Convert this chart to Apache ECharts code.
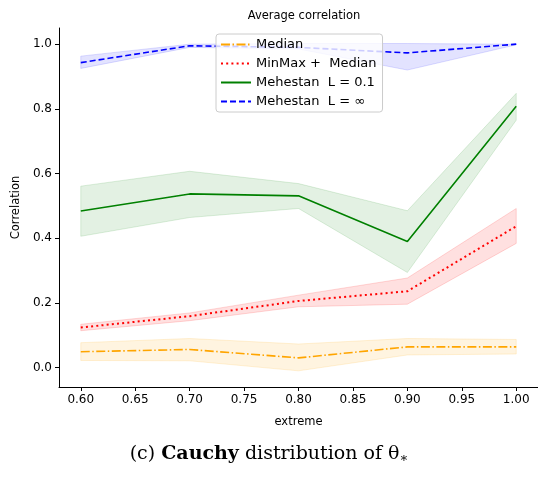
<!DOCTYPE html>
<html><head><meta charset="utf-8">
<script src="https://cdn.jsdelivr.net/npm/echarts@6/dist/echarts.min.js"></script>
<style>html,body{margin:0;padding:0;background:#fff}#c{width:538px;height:478px}</style>
</head><body><div id="c"></div>
<script>
const xVals = [0.6, 0.7, 0.8, 0.9, 1.0];
const xTicks = [0.6, 0.65, 0.7, 0.75, 0.8, 0.85, 0.9, 0.95, 1.0];
const yTicks = [0, 0.2, 0.4, 0.6, 0.8, 1.0];
const seriesNames = ['Median', 'MinMax +  Median', 'Mehestan  L = 0.1', 'Mehestan  L = \u221e'];
const medianMean = [0.049, 0.056, 0.030, 0.064, 0.064];
const medianLo   = [0.022, 0.021, -0.010, 0.039, 0.042];
const medianHi   = [0.077, 0.090, 0.073, 0.090, 0.087];
const minmaxMean = [0.124, 0.159, 0.206, 0.236, 0.437];
const minmaxLo   = [0.114, 0.145, 0.188, 0.196, 0.384];
const minmaxHi   = [0.134, 0.169, 0.224, 0.277, 0.492];
const l01Mean = [0.484, 0.537, 0.531, 0.390, 0.808];
const l01Lo   = [0.406, 0.464, 0.492, 0.294, 0.765];
const l01Hi   = [0.561, 0.607, 0.569, 0.485, 0.848];
const linfMean = [0.943, 0.995, 0.990, 0.973, 1.000];
const linfLo   = [0.925, 0.990, 0.985, 0.920, 0.998];
const linfHi   = [0.963, 1.000, 1.002, 1.002, 1.000];

const FONT = 'DejaVu Sans';
const chart = echarts.init(document.getElementById('c'), null, {renderer: 'canvas'});

function band(lo, hi, fill, edge) {
  return {
    type: 'custom', silent: true, z: 1,
    data: xVals.map((x, i) => [x, lo[i], hi[i]]),
    renderItem: function (params, api) {
      if (params.dataIndexInside !== 0) return null;
      const pts = [];
      for (let i = 0; i < xVals.length; i++) pts.push(api.coord([xVals[i], hi[i]]));
      for (let i = xVals.length - 1; i >= 0; i--) pts.push(api.coord([xVals[i], lo[i]]));
      return {type: 'polygon', shape: {points: pts}, style: {fill: fill, stroke: edge, lineWidth: 1}};
    }
  };
}
function line(name, vals, color, type, width) {
  return {
    name: name, type: 'line', z: 3, symbol: 'none', showSymbol: false, animation: false,
    data: xVals.map((x, i) => [x, vals[i]]),
    lineStyle: {color: color, width: width, type: type},
    itemStyle: {color: color}
  };
}

chart.setOption({
  animation: false,
  backgroundColor: '#fff',
  title: {text: 'Average correlation', left: 299, top: 5, textAlign: 'center',
    textStyle: {fontFamily: FONT, fontSize: 11.5, fontWeight: 'normal', color: '#000'}},
  grid: {left: 59, top: 28, width: 482, height: 359},
  legend: {
    data: seriesNames, left: 216, top: 34, orient: 'vertical',
    itemWidth: 30, itemHeight: 14, itemGap: 6,
    itemStyle: {opacity: 0},
    backgroundColor: 'rgba(255,255,255,0.8)', borderColor: '#cccccc', borderWidth: 1, borderRadius: 3,
    padding: [4, 6, 4, 4],
    textStyle: {fontFamily: FONT, fontSize: 13, color: '#000'}
  },
  xAxis: {
    type: 'value', min: 0.58, max: 1.02,
    name: 'extreme', nameLocation: 'middle', nameGap: 29,
    nameTextStyle: {fontFamily: FONT, fontSize: 11.5, color: '#000'},
    axisLine: {show: true, onZero: false, lineStyle: {color: '#000', width: 1}},
    axisTick: {show: true, length: 4, lineStyle: {color: '#000'}, customValues: xTicks},
    axisLabel: {customValues: xTicks, formatter: v => v.toFixed(2), fontFamily: FONT, fontSize: 12, color: '#000', margin: 7},
    splitLine: {show: false}
  },
  yAxis: {
    type: 'value', min: -0.06, max: 1.05,
    name: 'Correlation', nameLocation: 'middle', nameGap: 37, nameRotate: 90,
    nameTextStyle: {fontFamily: FONT, fontSize: 11.5, color: '#000'},
    axisLine: {show: true, onZero: false, lineStyle: {color: '#000', width: 1}},
    axisTick: {show: true, length: 4, lineStyle: {color: '#000'}, customValues: yTicks},
    axisLabel: {customValues: yTicks, formatter: v => v.toFixed(1), fontFamily: FONT, fontSize: 12, color: '#000', margin: 7},
    splitLine: {show: false}
  },
  graphic: [{
    type: 'text', left: 'center', top: 445,
    style: {
      text: '(c) {b|Cauchy} distribution of \u03b8{s|\u2217}',
      font: '19px "DejaVu Serif"', fill: '#000',
      rich: {b: {fontWeight: 'bold', fontSize: 19, fontFamily: 'DejaVu Serif'},
             s: {fontSize: 13, fontFamily: 'DejaVu Serif', verticalAlign: 'bottom', padding: [9, 0, 0, 0]}}
    }
  }],
  series: [
    band(medianLo, medianHi, 'rgba(255,165,0,0.12)', 'rgba(255,165,0,0.15)'),
    band(minmaxLo, minmaxHi, 'rgba(255,0,0,0.12)', 'rgba(255,0,0,0.15)'),
    band(l01Lo, l01Hi, 'rgba(0,128,0,0.11)', 'rgba(0,128,0,0.13)'),
    band(linfLo, linfHi, 'rgba(0,0,255,0.11)', 'rgba(0,0,255,0.13)'),
    line(seriesNames[0], medianMean, '#FFA500', [9, 2.5, 1.5, 2.5], 1.6),
    line(seriesNames[1], minmaxMean, '#FF0000', [2, 3.2], 2),
    line(seriesNames[2], l01Mean, '#008000', 'solid', 1.6),
    line(seriesNames[3], linfMean, '#0000FF', [6, 3], 1.6)
  ]
});
</script></body></html>
